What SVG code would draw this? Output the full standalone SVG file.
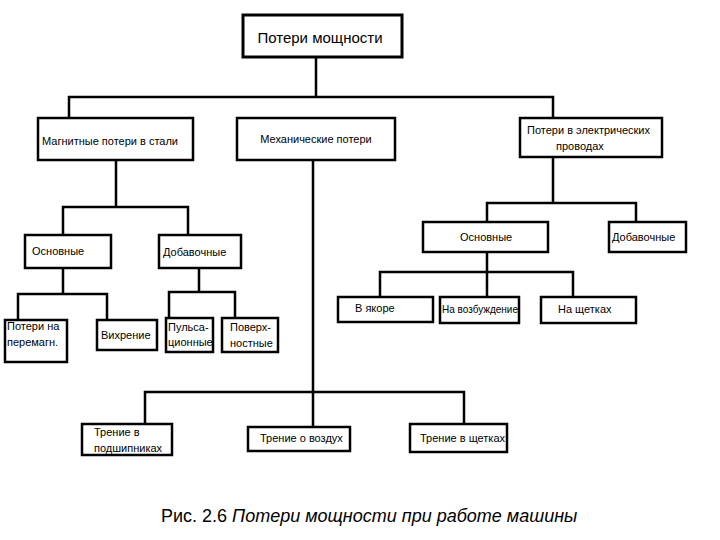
<svg xmlns="http://www.w3.org/2000/svg" width="720" height="540" viewBox="0 0 720 540">
<style>
.box{fill:#fff;stroke:#000;stroke-width:2.5}
.t{font-family:"Liberation Sans",Arial,sans-serif;font-size:11px;fill:#000}
.c{text-anchor:middle}
.big{font-size:15px}
.ln{fill:none;stroke:#000;stroke-width:2.5}
.cap{font-family:"Liberation Sans",Arial,sans-serif;font-size:18px;fill:#000}
</style>
<rect width="720" height="540" fill="#fff"/>
<g id="connectors" class="ln">
<path d="M316 57V97M69 118V97H553V118"/>
<path d="M116 160V207M63 235V207H188V235"/>
<path d="M63 268V294M18 320V294H107V320"/>
<path d="M199 268V292M169 318V292H235V318"/>
<path d="M313 160V392M145 424V392H464V424M313 392V427"/>
<path d="M553 157V203M487 222V203H636V222"/>
<path d="M487 252V297M380 297V272H573V297"/>
</g>
<g id="n-root"><rect class="box" x="243" y="15" width="159" height="42" style="stroke-width:3"/><text class="t c big" x="320" y="43">Потери мощности</text></g>
<g id="n-magn"><rect class="box" x="38" y="118" width="155" height="42"/><text class="t" x="42" y="145">Магнитные потери в стали</text></g>
<g id="n-mech"><rect class="box" x="237" y="118" width="158" height="42"/><text class="t c" x="316" y="143">Механические потери</text></g>
<g id="n-elec"><rect class="box" x="520" y="118" width="142" height="39"/><text class="t" x="527" y="134">Потери в электрических</text><text class="t" x="556" y="150">проводах</text></g>
<g id="n-osn1"><rect class="box" x="25" y="235" width="86" height="33"/><text class="t" x="32" y="255">Основные</text></g>
<g id="n-dob1"><rect class="box" x="159" y="235" width="82" height="33"/><text class="t" x="163" y="256">Добавочные</text></g>
<g id="n-perem"><rect class="box" x="5" y="320" width="62" height="42"/><text class="t" x="7" y="330">Потери на</text><text class="t" x="7" y="346">перемагн.</text></g>
<g id="n-vihr"><rect class="box" x="97" y="320" width="60" height="30"/><text class="t" x="101" y="339">Вихрение</text></g>
<g id="n-puls"><rect class="box" x="166" y="318" width="47" height="34"/><text class="t" x="168" y="331">Пульса-</text><text class="t" x="168" y="346">ционные</text></g>
<g id="n-pov"><rect class="box" x="222" y="318" width="56" height="34"/><text class="t" x="230" y="331">Поверх-</text><text class="t" x="230" y="347">ностные</text></g>
<g id="n-podsh"><rect class="box" x="82" y="424" width="90" height="31"/><text class="t" x="94" y="436">Трение в</text><text class="t" x="94" y="452">подшипниках</text></g>
<g id="n-vozd"><rect class="box" x="248" y="427" width="102" height="24"/><text class="t" x="260" y="442">Трение о воздух</text></g>
<g id="n-shch1"><rect class="box" x="410" y="424" width="97" height="28"/><text class="t" x="420" y="442">Трение в щетках</text></g>
<g id="n-osn2"><rect class="box" x="423" y="222" width="125" height="30"/><text class="t" x="460" y="241">Основные</text></g>
<g id="n-dob2"><rect class="box" x="609" y="222" width="77" height="30"/><text class="t" x="612" y="241">Добавочные</text></g>
<g id="n-yak"><rect class="box" x="338" y="297" width="95" height="25"/><text class="t" x="355" y="312">В якоре</text></g>
<g id="n-vozb"><rect class="box" x="440" y="297" width="79" height="26"/><text class="t" x="442" y="313" textLength="76" lengthAdjust="spacingAndGlyphs">На возбуждение</text></g>
<g id="n-shch2"><rect class="box" x="541" y="297" width="95" height="26"/><text class="t" x="558" y="313">На щетках</text></g>
<text class="cap" x="161" y="522">Рис. 2.6 <tspan font-style="italic">Потери мощности при работе машины</tspan></text>
</svg>
